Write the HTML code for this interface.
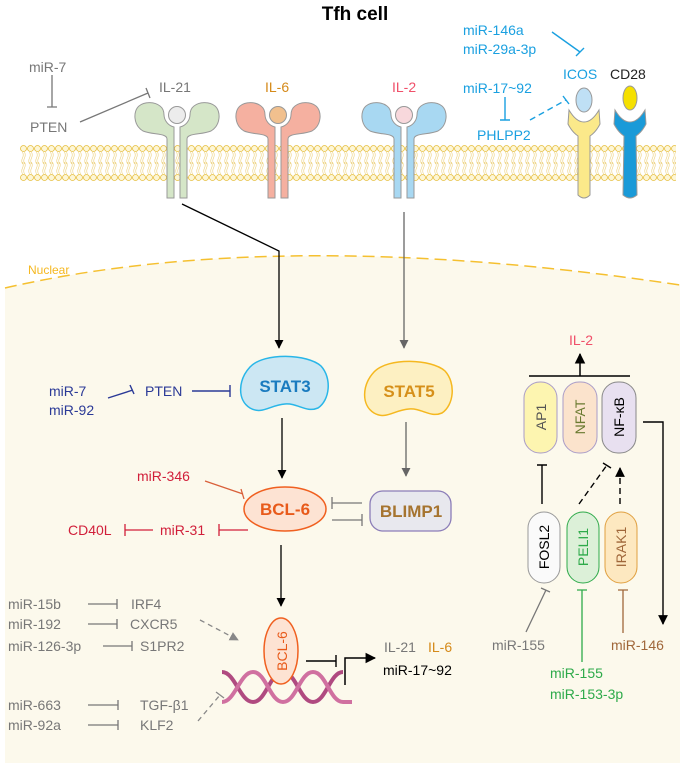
<!DOCTYPE html>
<html><head><meta charset="utf-8"><style>
html,body{margin:0;padding:0;background:#fff}
svg{display:block}
text{font-family:"Liberation Sans",sans-serif}
</style></head><body>
<svg width="686" height="767" viewBox="0 0 686 767" xmlns="http://www.w3.org/2000/svg">
<defs>
<marker id="ab" viewBox="0 0 10 10" refX="9" refY="5" markerWidth="7" markerHeight="8" orient="auto"><path d="M0,0 L10,5 L0,10 z" fill="#000"/></marker>
<marker id="ag" viewBox="0 0 10 10" refX="9" refY="5" markerWidth="7" markerHeight="8" orient="auto"><path d="M0,0 L10,5 L0,10 z" fill="#666"/></marker>
<marker id="ag2" viewBox="0 0 10 10" refX="9" refY="5" markerWidth="7" markerHeight="8" orient="auto"><path d="M0,0 L10,5 L0,10 z" fill="#888"/></marker>
<pattern id="mem" x="20" y="145" width="7" height="36" patternUnits="userSpaceOnUse">
<circle cx="3.5" cy="3.5" r="3" fill="#fdf6d6" stroke="#e6be3c" stroke-width="0.8"/>
<circle cx="3.5" cy="32.5" r="3" fill="#fdf6d6" stroke="#e6be3c" stroke-width="0.8"/>
<path d="M2.5,7 q1.5,3 0,6 q-1.5,3 0,6 M4.5,7 q1.5,3 0,6 q-1.5,3 0,6 M2.5,17 q1.5,3 0,6 q-1.5,3 0,6 M4.5,17 q1.5,3 0,6 q-1.5,3 0,6" fill="none" stroke="#ecd07a" stroke-width="0.6"/>
</pattern>
<g id="rh"><path d="M-3,95 L-10,95 L-10,36 C-10,30 -24,32 -34,28 C-44,22 -44,8 -38,3 C-32,-2 -22,-1 -17,3 C-13,6 -13,10 -13,12 A13 13 0 0 0 -3,24 Z"/></g>
</defs>
<rect width="686" height="767" fill="#fff"/>
<!-- nucleus -->
<path d="M5,288 Q280,225 680,285 L680,763 L5,763 Z" fill="#fcf9ec"/>
<path d="M5,288 Q280,225 680,285" fill="none" stroke="#f5c030" stroke-width="1.5" stroke-dasharray="12,6"/>
<text x="28" y="274" font-size="12" fill="#f5b820">Nuclear</text>
<!-- title -->
<text x="355" y="20" font-size="19" font-weight="bold" text-anchor="middle">Tfh cell</text>
<!-- membrane -->
<rect x="20" y="145" width="656" height="36" fill="url(#mem)"/>
<!-- receptors -->
<g transform="translate(177,103)" fill="#d5e6c8" stroke="#999" stroke-width="1"><use href="#rh"/><use href="#rh" transform="scale(-1,1)"/><circle cx="0" cy="12" r="8.5" fill="#ececec"/></g>
<g transform="translate(278,103)" fill="#f5b0a0" stroke="#999" stroke-width="1"><use href="#rh"/><use href="#rh" transform="scale(-1,1)"/><circle cx="0" cy="12" r="8.5" fill="#f1c08e"/></g>
<g transform="translate(404,103)" fill="#a8d8f2" stroke="#999" stroke-width="1"><use href="#rh"/><use href="#rh" transform="scale(-1,1)"/><circle cx="0" cy="12" r="8.5" fill="#f8d8dc"/></g>
<!-- ICOS / CD28 -->
<path d="M569,110 Q576,122 584,122 Q592,122 599,110 L600,124 Q596,132 590,136 L590,195 Q584,201 578,195 L578,136 Q572,132 568,124 Z" fill="#fbe98a" stroke="#999"/>
<ellipse cx="584" cy="100" rx="8" ry="12" fill="#bfe0f5" stroke="#999"/>
<path d="M615,110 Q622,122 630,122 Q638,122 645,110 L646,124 Q642,132 636,136 L637,195 Q630,201 623,195 L624,136 Q618,132 614,124 Z" fill="#1a9ad8" stroke="#999"/>
<ellipse cx="630" cy="98" rx="7" ry="12" fill="#f5e000" stroke="#999"/>
<!-- top labels -->
<g font-size="14">
<text x="29" y="72" fill="#777">miR-7</text>
<text x="30" y="132" fill="#777">PTEN</text>
<text x="159" y="92" fill="#777">IL-21</text>
<text x="265" y="92" fill="#d58a1a">IL-6</text>
<text x="392" y="92" fill="#f0506a">IL-2</text>
<text x="463" y="35" fill="#1aa0e0">miR-146a</text>
<text x="463" y="54" fill="#1aa0e0">miR-29a-3p</text>
<text x="563" y="79" fill="#1aa0e0">ICOS</text>
<text x="610" y="79" fill="#222">CD28</text>
<text x="463" y="93" fill="#1aa0e0">miR-17~92</text>
<text x="477" y="140" fill="#1aa0e0">PHLPP2</text>
</g>
<g stroke="#777" stroke-width="1.3" fill="none">
<path d="M52,75 V107 M47,107 H57"/>
<path d="M80,122 L148,93 M146,88 L150,98"/>
</g>
<g stroke="#1aa0e0" stroke-width="1.4" fill="none">
<path d="M552,32 L580,52 M576,56 L584,48"/>
<path d="M505,97 V120 M500,120 H510"/>
<path d="M530,120 L566,100" stroke-dasharray="6,4"/>
<path d="M563,96 L569,104"/>
</g>
<!-- signal lines -->
<path d="M182,204 L279,251 L279,348" stroke="#000" stroke-width="1.3" fill="none" marker-end="url(#ab)"/>
<path d="M404,212 L404,348" stroke="#666" stroke-width="1.3" fill="none" marker-end="url(#ag)"/>
<!-- STAT3 -->
<path d="M250,367 C264,352 308,354 321,366 C332,378 330,400 318,408 C306,413 298,403 285,404 C270,405 262,415 250,408 C237,400 238,380 250,367 Z" fill="#cce7f3" stroke="#29b6e8" stroke-width="1.5"/>
<text x="285" y="392" font-size="17" font-weight="bold" fill="#1a7bbf" text-anchor="middle">STAT3</text>
<path d="M374,372 C388,357 432,359 445,371 C456,383 454,405 442,413 C430,418 422,408 409,409 C394,410 386,420 374,413 C361,405 362,385 374,372 Z" fill="#fdf0c2" stroke="#f5b820" stroke-width="1.5"/>
<text x="409" y="397" font-size="17" font-weight="bold" fill="#d6901a" text-anchor="middle">STAT5</text>
<g font-size="14">
<text x="49" y="396" fill="#2b3a97">miR-7</text>
<text x="49" y="415" fill="#2b3a97">miR-92</text>
<text x="145" y="396" fill="#2b3a97">PTEN</text>
</g>
<g stroke="#2b3a97" stroke-width="1.4" fill="none">
<path d="M108,398 L133,390 M130,385 L134,394"/>
<path d="M192,391 H230 M230,385 V397"/>
</g>
<path d="M282,418 V478" stroke="#000" stroke-width="1.3" marker-end="url(#ab)"/>
<path d="M406,422 V476" stroke="#666" stroke-width="1.3" marker-end="url(#ag)"/>
<!-- BCL-6 / BLIMP1 -->
<ellipse cx="285" cy="509" rx="41" ry="22" fill="#fde3d3" stroke="#f06020" stroke-width="1.5"/>
<text x="285" y="515" font-size="17" font-weight="bold" fill="#e85a1a" text-anchor="middle">BCL-6</text>
<rect x="370" y="491" width="81" height="40" rx="13" fill="#e8e8ee" stroke="#8b7db8" stroke-width="1.3"/>
<text x="411" y="517" font-size="17" font-weight="bold" fill="#a67430" text-anchor="middle">BLIMP1</text>
<g stroke="#777" stroke-width="1.3" fill="none">
<path d="M362,503 H332 M332,497 V509"/>
<path d="M332,520 H362 M362,514 V526"/>
</g>
<g font-size="14" fill="#d11f3a">
<text x="137" y="481">miR-346</text>
<text x="68" y="535">CD40L</text>
<text x="160" y="535">miR-31</text>
</g>
<g stroke="#d11f3a" stroke-width="1.3" fill="none">
<path d="M205,481 L243,494" stroke="#d9603a"/>
<path d="M241,489 L244,499" stroke="#d9603a"/>
<path d="M125,530 H153 M125,524 V536"/>
<path d="M219,530 H248 M219,524 V536"/>
</g>
<path d="M281,545 V606" stroke="#000" stroke-width="1.3" marker-end="url(#ab)"/>
<!-- DNA -->
<g fill="none" stroke-width="4">
<path d="M222,672 C235,672 240,702 253,702 C266,702 270,672 283,672 C296,672 300,702 313,702 C326,702 330,672 343,672" stroke="#b04a80"/>
<path d="M222,702 C235,702 240,672 253,672 C266,672 270,702 283,702 C296,702 300,672 313,672 C326,672 330,702 343,702 L352,702" stroke="#d070a0"/>
</g>
<ellipse cx="281" cy="651" rx="17" ry="33" fill="#fde3d3" stroke="#f06020" stroke-width="1.5"/>
<text transform="translate(287,651) rotate(-90)" font-size="14" fill="#e85a1a" text-anchor="middle">BCL-6</text>
<path d="M306,661 H336 M336,655 V667" stroke="#000" stroke-width="1.4" fill="none"/>
<path d="M345,685 V658 H375" stroke="#000" stroke-width="1.5" fill="none" marker-end="url(#ab)"/>
<g font-size="14">
<text x="384" y="652" fill="#777">IL-21</text>
<text x="428" y="652" fill="#d58a1a">IL-6</text>
<text x="383" y="675" fill="#000">miR-17~92</text>
</g>
<!-- left list -->
<g font-size="14" fill="#777">
<text x="8" y="609">miR-15b</text><text x="131" y="609">IRF4</text>
<text x="8" y="629">miR-192</text><text x="130" y="629">CXCR5</text>
<text x="8" y="651">miR-126-3p</text><text x="140" y="651">S1PR2</text>
<text x="8" y="710">miR-663</text><text x="140" y="710">TGF-β1</text>
<text x="8" y="730">miR-92a</text><text x="140" y="730">KLF2</text>
</g>
<g stroke="#777" stroke-width="1.3" fill="none">
<path d="M88,604 H117 M117,599 V609"/>
<path d="M88,624 H117 M117,619 V629"/>
<path d="M103,646 H132 M132,641 V651"/>
<path d="M88,705 H118 M118,700 V710"/>
<path d="M88,725 H118 M118,720 V730"/>
</g>
<path d="M200,620 L238,640" stroke="#888" stroke-width="1.3" stroke-dasharray="5,4" fill="none" marker-end="url(#ag2)"/>
<path d="M198,721 L220,695" stroke="#888" stroke-width="1.3" stroke-dasharray="5,4" fill="none"/>
<path d="M216,692 L224,698" stroke="#888" stroke-width="1.3"/>
<!-- right -->
<text x="581" y="345" font-size="14" fill="#f0506a" text-anchor="middle">IL-2</text>
<path d="M529,376 H630" stroke="#000" stroke-width="1.5"/>
<path d="M580,376 V354" stroke="#000" stroke-width="1.5" marker-end="url(#ab)"/>
<rect x="524" y="382" width="33" height="71" rx="16" fill="#fdf5b0" stroke="#a99cc8"/>
<rect x="563" y="382" width="34" height="71" rx="16" fill="#fbe3cc" stroke="#a99cc8"/>
<rect x="602" y="382" width="34" height="71" rx="16" fill="#e8e0f0" stroke="#888"/>
<g font-size="14" text-anchor="middle">
<text transform="translate(546,417) rotate(-90)" fill="#555">AP1</text>
<text transform="translate(585,417) rotate(-90)" fill="#6a7a30">NFAT</text>
<text transform="translate(624,417) rotate(-90)" fill="#000">NF-κB</text>
</g>
<rect x="528" y="512" width="32" height="71" rx="16" fill="#fafafa" stroke="#999"/>
<rect x="567" y="512" width="32" height="71" rx="16" fill="#dcf0d8" stroke="#2eaa4a"/>
<rect x="605" y="512" width="32" height="71" rx="16" fill="#fde8c0" stroke="#e0a040"/>
<g font-size="14" text-anchor="middle">
<text transform="translate(549,547) rotate(-90)" fill="#000">FOSL2</text>
<text transform="translate(588,547) rotate(-90)" fill="#2eaa4a">PELI1</text>
<text transform="translate(626,547) rotate(-90)" fill="#a0673a">IRAK1</text>
</g>
<g stroke="#000" stroke-width="1.4" fill="none">
<path d="M542,504 V465 M537,465 H547"/>
<path d="M579,504 L607,465" stroke-dasharray="6,4"/>
<path d="M603,463 L611,468"/>
<path d="M620,504 V468" stroke-dasharray="6,4" marker-end="url(#ab)"/>
<path d="M643,422 H663 V624" marker-end="url(#ab)"/>
</g>
<g font-size="14">
<text x="492" y="650" fill="#777">miR-155</text>
<text x="611" y="650" fill="#a0673a">miR-146</text>
<text x="550" y="678" fill="#2eaa4a">miR-155</text>
<text x="550" y="699" fill="#2eaa4a">miR-153-3p</text>
</g>
<path d="M526,632 L546,590 M541,588 L550,592" stroke="#777" stroke-width="1.3" fill="none"/>
<path d="M582,662 V590 M577,590 H587" stroke="#2eaa4a" stroke-width="1.3" fill="none"/>
<path d="M623,633 V590 M618,590 H628" stroke="#a0673a" stroke-width="1.3" fill="none"/>
</svg>
</body></html>
